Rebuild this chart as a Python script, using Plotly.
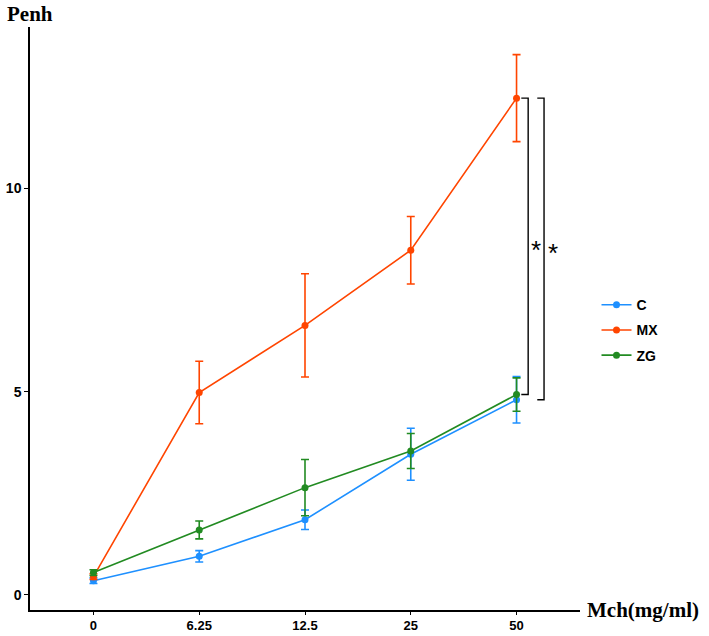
import plotly.graph_objects as go

doses = ["0", "6.25", "12.5", "25", "50"]
groups = ["C", "MX", "ZG"]
colors = {"C": "#1E90FF", "MX": "#FF4500", "ZG": "#228B22"}
means = {
    "C": [0.35, 0.95, 1.85, 3.46, 4.80],
    "MX": [0.45, 4.98, 6.63, 8.48, 12.22],
    "ZG": [0.55, 1.60, 2.64, 3.54, 4.93],
}
errs = {
    "C": [0.07, 0.14, 0.24, 0.64, 0.57],
    "MX": [0.07, 0.77, 1.27, 0.83, 1.07],
    "ZG": [0.07, 0.22, 0.69, 0.43, 0.41],
}
yticks = [0, 5, 10]

xs = list(range(len(doses)))
fig = go.Figure()
for g in groups:
    fig.add_trace(go.Scatter(
        x=xs, y=means[g], name=g, mode="lines+markers", legendgroup=g,
        line=dict(color=colors[g], width=1.6),
        marker=dict(color=colors[g], size=7),
        error_y=dict(type="data", array=errs[g], color=colors[g], thickness=1.6, width=4),
    ))

# significance brackets
def bracket(x0, x1, ytop, ybot, xs_star):
    fig.add_shape(type="path",
                  path=f"M {x0} {ytop} L {x1} {ytop} L {x1} {ybot} L {x0} {ybot}",
                  line=dict(color="black", width=1.4), xref="x", yref="y")
    fig.add_annotation(x=xs_star, y=(ytop + ybot) / 2, text="*", showarrow=False,
                       font=dict(size=26, color="black", family="Liberation Sans"),
                       xref="x", yref="y", yshift=-4)

bracket(4.045, 4.11, means["MX"][4], means["ZG"][4], 4.18)
bracket(4.196, 4.26, means["MX"][4], means["C"][4], 4.345)

tickfont = dict(family="Liberation Sans Narrow, Liberation Sans", size=13, color="black", weight="bold")
fig.update_layout(
    width=709, height=636,
    margin=dict(l=30, r=129, t=27, b=26),
    plot_bgcolor="white", paper_bgcolor="white",
    xaxis=dict(range=[-0.6, 4.6], tickvals=xs, ticktext=doses, showline=True,
               linecolor="black", linewidth=1.5, ticks="outside", ticklen=3,
               tickcolor="black", tickfont=tickfont, showgrid=False, zeroline=False,
               automargin=False),
    yaxis=dict(range=[-0.37, 13.97], tickvals=yticks, showline=True,
               linecolor="black", linewidth=1.5, ticks="outside", ticklen=4,
               tickcolor="black", tickfont=dict(tickfont, size=14), showgrid=False,
               zeroline=False, automargin=False),
    legend=dict(x=1.03, y=0.48, xanchor="left", yanchor="middle",
                font=dict(family="Liberation Sans", size=14, color="black", weight="bold"),
                itemwidth=30, tracegroupgap=4, traceorder="grouped"),
    showlegend=True,
)
fig.add_annotation(x=0, y=1, xref="paper", yref="paper", xshift=-25, yshift=13,
                   text="<b>Penh</b>", showarrow=False, xanchor="left", yanchor="middle",
                   font=dict(family="Liberation Serif", size=21, color="black"))
fig.add_annotation(x=1, y=0, xref="paper", yref="paper", xshift=5,
                   text="<b>Mch(mg/ml)</b>", showarrow=False, xanchor="left", yanchor="middle",
                   font=dict(family="Liberation Serif", size=21, color="black"))
fig.write_html("out.html")
